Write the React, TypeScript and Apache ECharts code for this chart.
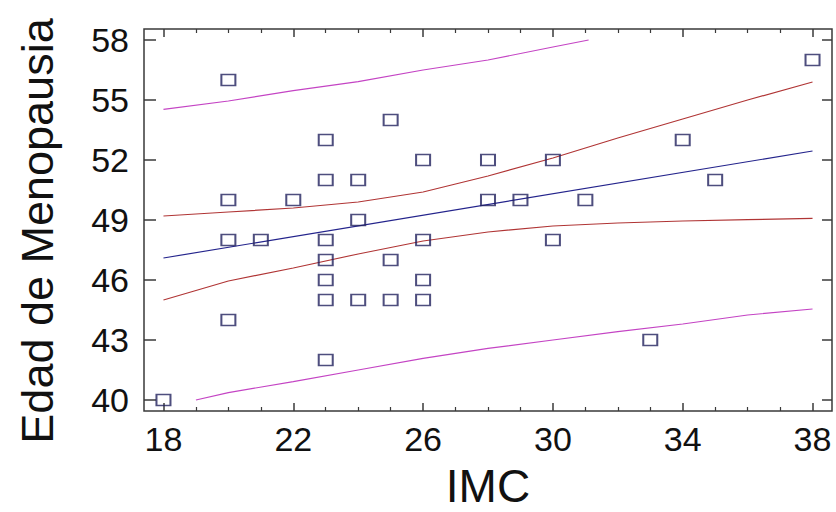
import React, { useEffect, useRef } from "react";
import * as echarts from "echarts";

// Observed data (IMC vs Edad de Menopausia)
const imc = [18, 20, 20, 20, 20, 21, 22, 23, 23, 23, 23, 23, 23, 23, 24, 24, 24, 25, 25, 25, 26, 26, 26, 26, 28, 28, 29, 30, 30, 31, 33, 34, 35, 38];
const edad = [40, 56, 50, 48, 44, 48, 50, 53, 51, 48, 47, 46, 45, 42, 51, 49, 45, 54, 47, 45, 52, 48, 46, 45, 52, 50, 50, 52, 48, 50, 43, 53, 51, 57];

// Fitted line
const fitX = [18, 38];
const fitY = [47.1, 52.45];

// Confidence limits (red)
const confX = [18, 20, 22, 24, 26, 28, 30, 32, 34, 36, 38];
const confUpper = [49.2, 49.4, 49.6, 49.9, 50.4, 51.2, 52.1, 53.1, 54.05, 55.0, 55.9];
const confLower = [45.0, 45.95, 46.6, 47.3, 47.95, 48.4, 48.7, 48.85, 48.95, 49.02, 49.08];

// Prediction limits (magenta)
const predUpperX = [18, 20, 22, 24, 26, 28, 30, 31.1];
const predUpperY = [54.53, 54.95, 55.47, 55.92, 56.5, 57.0, 57.65, 58.0];
const predLowerX = [19, 20, 22, 24, 26, 28, 30, 32, 34, 36, 38];
const predLowerY = [40.0, 40.37, 40.92, 41.5, 42.08, 42.58, 43.0, 43.42, 43.8, 44.25, 44.55];

// Axis ticks
const xTicks = [18, 22, 26, 30, 34, 38];
const xMinorTicks = [19, 20, 21, 23, 24, 25, 27, 28, 29, 31, 32, 33, 35, 36, 37];
const yTicks = [40, 43, 46, 49, 52, 55, 58];

const xTitle = "IMC";
const yTitle = "Edad de Menopausia";

const zip = (xs: number[], ys: number[]) => xs.map((x, i) => [x, ys[i]]);

export default function App() {
  const ref = useRef<HTMLDivElement>(null);
  useEffect(() => {
    if (!ref.current) return;
    const chart = echarts.init(ref.current, null, { renderer: "svg" });
    const font = "Liberation Sans, Arial, sans-serif";
    const axisColor = "#3a3a3a";
    const xMin = 17.4, xMax = 38.6, yMin = 39.45, yMax = 58.55;
    const baseX = {
      type: "value" as const,
      min: xMin,
      max: xMax,
      axisLine: { show: false },
      splitLine: { show: false },
      axisLabel: { show: false },
    };
    const baseY = {
      type: "value" as const,
      min: yMin,
      max: yMax,
      axisLine: { show: false },
      splitLine: { show: false },
      axisLabel: { show: false },
    };
    const lineSeries = (name: string, data: number[][], color: string) => ({
      name,
      type: "line",
      data,
      showSymbol: false,
      symbol: "none",
      xAxisIndex: 0,
      yAxisIndex: 0,
      lineStyle: { color, width: 1.2 },
      z: 2,
    });
    chart.setOption({
      animation: false,
      backgroundColor: "#ffffff",
      grid: {
        left: 144,
        right: 4,
        top: 29,
        bottom: 101,
        containLabel: false,
        outerBoundsMode: "none",
        show: true,
        borderColor: axisColor,
        borderWidth: 1.5,
        backgroundColor: "transparent",
      },
      xAxis: [
        {
          ...baseX,
          position: "bottom",
          axisTick: { show: true, inside: true, length: 8, customValues: xTicks, lineStyle: { color: axisColor, width: 1.5 } },
          axisLabel: { show: true, customValues: xTicks, fontSize: 34, color: "#111", margin: 11, fontFamily: font },
          name: xTitle,
          nameLocation: "middle",
          nameGap: 52,
          nameTextStyle: { fontSize: 46, lineHeight: 46, color: "#111", fontFamily: font },
        },
        {
          ...baseX,
          position: "bottom",
          axisTick: { show: true, inside: true, length: 4, customValues: xMinorTicks, lineStyle: { color: axisColor, width: 1.2 } },
        },
        {
          ...baseX,
          position: "top",
          axisTick: { show: true, inside: true, length: 8, customValues: xTicks, lineStyle: { color: axisColor, width: 1.5 } },
        },
        {
          ...baseX,
          position: "top",
          axisTick: { show: true, inside: true, length: 4, customValues: xMinorTicks, lineStyle: { color: axisColor, width: 1.2 } },
        },
      ],
      yAxis: [
        {
          ...baseY,
          position: "left",
          axisTick: { show: true, inside: true, length: 12, customValues: yTicks, lineStyle: { color: axisColor, width: 1.5 } },
          axisLabel: { show: true, customValues: yTicks, fontSize: 34, color: "#111", margin: 15, fontFamily: font },
          name: yTitle,
          nameLocation: "middle",
          nameGap: 84,
          nameTextStyle: { fontSize: 45, color: "#111", fontFamily: font, padding: [0, 22, 0, 0] },
        },
        {
          ...baseY,
          position: "right",
          axisTick: { show: true, inside: true, length: 10, customValues: yTicks, lineStyle: { color: axisColor, width: 1.5 } },
        },
      ],
      series: [
        lineSeries("Predicción superior", zip(predUpperX, predUpperY), "#c444c4"),
        lineSeries("Predicción inferior", zip(predLowerX, predLowerY), "#c444c4"),
        lineSeries("Confianza superior", zip(confX, confUpper), "#b03535"),
        lineSeries("Confianza inferior", zip(confX, confLower), "#b03535"),
        lineSeries("Ajuste", zip(fitX, fitY), "#24248c"),
        {
          name: "Observaciones",
          type: "scatter",
          xAxisIndex: 0,
          yAxisIndex: 0,
          data: zip(imc, edad),
          symbol: "rect",
          symbolSize: [14, 11],
          itemStyle: { color: "rgba(255,255,255,0)", borderColor: "#22225e", borderWidth: 1.8 },
          z: 3,
        },
      ],
    });
    return () => chart.dispose();
  }, []);
  return (
    <div
      ref={ref}
      style={{ position: "fixed", left: 0, top: 0, width: 836, height: 512, background: "#fff" }}
    />
  );
}
